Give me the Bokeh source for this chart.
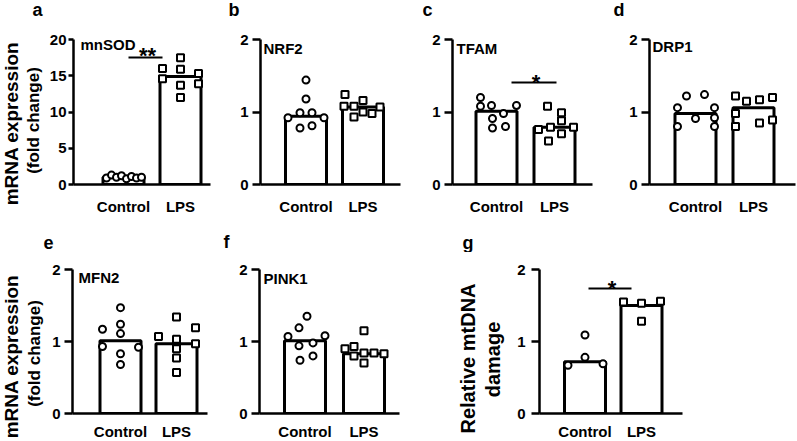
import numpy as np
from bokeh.plotting import figure
from bokeh.layouts import row, column
from bokeh.models import Label, FixedTicker
from bokeh.core.properties import value
from bokeh.embed import file_html
from bokeh.resources import INLINE

# ---------------- data ----------------
groups = ["Control", "LPS"]

sod_ctrl = [0.9, 1.3, 1.0, 1.2, 0.8, 1.1, 0.9, 1.0]
sod_lps = [16.0, 14.6, 17.5, 15.9, 13.7, 12.0, 15.3, 13.9]
sod_bars = [1.0, 14.9]

nrf2_ctrl = [1.44, 1.18, 0.99, 0.99, 0.92, 0.92, 0.78, 0.81]
nrf2_lps = [1.24, 1.08, 1.08, 1.16, 0.93, 1.00, 0.98, 1.07]
nrf2_bars = [0.94, 1.07]

tfam_ctrl = [1.20, 1.08, 1.09, 0.98, 0.91, 0.78, 0.80, 1.09]
tfam_lps = [1.08, 0.99, 0.88, 0.79, 0.76, 0.70, 0.60, 0.79]
tfam_bars = [1.01, 0.79]

drp1_ctrl = [1.06, 0.80, 1.22, 0.91, 1.24, 1.06, 0.92, 0.80]
drp1_lps = [1.22, 1.15, 1.17, 1.20, 0.98, 0.80, 0.85, 0.89]
drp1_bars = [0.98, 1.06]

mfn2_ctrl = [1.17, 0.93, 1.47, 1.24, 1.11, 0.83, 0.68, 0.92]
mfn2_lps = [1.07, 1.34, 1.03, 0.90, 0.77, 0.57, 1.19, 0.97]
mfn2_bars = [1.01, 0.97]

pink1_ctrl = [1.07, 1.35, 1.19, 0.94, 0.98, 0.74, 0.80, 1.08]
pink1_lps = [1.15, 0.93, 0.90, 0.84, 0.70, 0.84, 0.83, 0.80]
pink1_bars = [1.01, 0.83]

mtdna_ctrl = [1.09, 0.78, 0.67, 0.69]
mtdna_lps = [1.55, 1.53, 1.56, 1.28]
mtdna_bars = [0.72, 1.50]

# horizontal scatter offsets of the dots (pixels from bar centre) - layout only
sod_ctrl_dx = [-17, -12, -7, -2, 3, 8, 13, 18]
sod_lps_dx = [-18, -18, 0, 0, 0, 0, 18, 18]
nrf2_ctrl_dx = [0, 0, -6, 6, -18, 18, -6, 6]
nrf2_lps_dx = [-18, -19, -9, 0, -9, 0, 9, 17]
tfam_ctrl_dx = [-16, -16, -5, 7, -4, -4, 9, 20]
tfam_lps_dx = [-7, 7, 7, -4, -16, 7, -6, 19]
drp1_ctrl_dx = [-18, -18, -9, 0, 9, 19, 19, 19]
drp1_lps_dx = [-18, -7, 6, 19, -18, -18, 6, 19]
mfn2_ctrl_dx = [-18, -18, 0, 0, 0, 0, 0, 18]
mfn2_lps_dx = [-18, 0, 0, 0, 0, 0, 19, 19]
pink1_ctrl_dx = [-17, 2, -6, -6, 8, -5, 8, 20]
pink1_lps_dx = [0, -10, -19, 0, 0, 10, 20, -10]
mtdna_ctrl_dx = [0, 0, -17, 18]
mtdna_lps_dx = [-18, 0, 19, 0]

FONT = "Liberation Sans"
R = np.pi / 2


class Strip:
    """A text-only figure occupying a page rectangle (x0, y0, w, h)."""

    def __init__(self, x0, y0, w, h):
        self.x0, self.y0, self.h = x0, y0, h
        p = figure(frame_width=w, frame_height=h, x_range=(0, w), y_range=(0, h),
                   min_border_left=0, min_border_right=0, min_border_top=0,
                   min_border_bottom=0, x_axis_type=None, y_axis_type=None,
                   output_backend="svg", toolbar_location=None)
        p.outline_line_color = None
        p.grid.grid_line_color = None
        p.background_fill_color = "white"
        p.border_fill_color = "white"
        self.p = p

    def text(self, px, py, txt, size, align="center", baseline="middle", angle=0.0):
        self.p.text(x=[px - self.x0], y=[self.h - (py - self.y0)], text=[txt],
                    angle=angle, text_font=value(FONT), text_font_style="bold",
                    text_font_size=f"{size}px", text_align=align,
                    text_baseline=baseline, text_color="black")


class Panel:
    def __init__(self, L, W, c1, c2, ft, fh, ymax, bl, br, bt, bb, ticks, xstand,
                 tick_out=8, ystand=4):
        self.L, self.W, self.c1, self.c2 = L, W, c1, c2
        self.ft, self.fh, self.ymax = ft, fh, ymax
        self.u = c2 - c1
        x0 = 1 + (L - c1) / self.u
        x1 = 1 + (L + W - c1) / self.u
        p = figure(frame_width=W, frame_height=fh, x_range=(x0, x1), y_range=(0, ymax),
                   min_border_left=bl, min_border_right=br, min_border_top=bt,
                   min_border_bottom=bb, output_backend="svg", toolbar_location=None)
        p.outline_line_color = None
        p.grid.grid_line_color = None
        p.background_fill_color = "white"
        p.border_fill_color = "white"
        for ax in (p.xaxis[0], p.yaxis[0]):
            ax.axis_line_width = 2.5
            ax.axis_line_color = "black"
            ax.major_tick_line_width = 2.5
            ax.minor_tick_line_color = None
            ax.major_label_text_font = FONT
            ax.major_label_text_font_style = "bold"
            ax.major_label_text_font_size = "15px"
            ax.major_label_text_color = "black"
        p.xaxis.ticker = FixedTicker(ticks=[1, 2])
        p.xaxis.major_label_overrides = {1: groups[0], 2: groups[1]}
        p.xaxis.major_tick_out = 0
        p.xaxis.major_tick_in = 0
        p.xaxis.major_label_standoff = xstand
        p.yaxis.ticker = FixedTicker(ticks=ticks)
        p.yaxis.major_tick_out = tick_out
        p.yaxis.major_tick_in = 0
        p.yaxis.major_label_standoff = ystand
        self.p = p

    def X(self, px):
        return 1 + (px - self.c1) / self.u

    def Y(self, py):
        return self.ymax * (self.ft + self.fh - py) / self.fh

    def draw(self, bars, ctrl, ctrl_dx, lps, lps_dx):
        p = self.p
        p.vbar(x=[1, 2], top=bars, bottom=0, width=41 / self.u, fill_color="white",
               line_color="black", line_width=3)
        p.scatter(x=[1 + d / self.u for d in ctrl_dx], y=ctrl, marker="circle", size=7,
                  fill_color="white", line_color="black", line_width=2)
        p.scatter(x=[2 + d / self.u for d in lps_dx], y=lps, marker="square", size=7,
                  fill_color="white", line_color="black", line_width=2)

    def text(self, px, py, txt, size, align="center", baseline="middle"):
        self.p.add_layout(Label(x=self.X(px), y=self.Y(py), text=txt, text_font=FONT,
                                text_font_style="bold", text_font_size=f"{size}px",
                                text_align=align, text_baseline=baseline,
                                text_color="black"))

    def sig(self, xa, xb, py, stars, sy):
        self.p.segment(x0=[self.X(xa)], y0=[self.Y(py)], x1=[self.X(xb)], y1=[self.Y(py)],
                       line_color="black", line_width=2)
        self.text((xa + xb) / 2 + 2, sy, stars, 22)


TOP = dict(ft=39, fh=145, bt=15, bb=41, xstand=13)
BOT = dict(ft=269, fh=144, bt=17, bb=27, xstand=9)

# ---- panel letters (top strip, page y 0-24) ----
lt = Strip(0, 0, 796, 24)
for t, x in zip(["a", "b", "c", "d"], [32, 228, 422, 613]):
    lt.text(x, 9, t, 18, align="left", baseline="middle")

# ---- top row (page y 24-225) ----
yt1 = Strip(0, 24, 46, 201)
yt1.text(11, 108, "mRNA expression", 19, angle=R)
yt1.text(33, 105, "(fold change)", 17, angle=R)

pa = Panel(70, 137, 120, 177, ymax=20, bl=24, br=8, ticks=[0, 5, 10, 15, 20],
           tick_out=5, ystand=2, **TOP)
pa.draw(sod_bars, sod_ctrl, sod_ctrl_dx, sod_lps, sod_lps_dx)
pa.text(77, 44, "mnSOD", 15, align="left")
pa.sig(125, 159, 57, "**", 55)

pb = Panel(257, 140, 302.5, 359.5, ymax=2, bl=42, br=8, ticks=[0, 1, 2], **TOP)
pb.draw(nrf2_bars, nrf2_ctrl, nrf2_ctrl_dx, nrf2_lps, nrf2_lps_dx)
pb.text(260, 48, "NRF2", 15, align="left")

pc = Panel(449, 140, 493, 551, ymax=2, bl=44, br=8, ticks=[0, 1, 2], **TOP)
pc.draw(tfam_bars, tfam_ctrl, tfam_ctrl_dx, tfam_lps, tfam_lps_dx)
pc.text(453, 48, "TFAM", 15, align="left")
pc.sig(508, 553, 82, "*", 82)

pd = Panel(646, 146, 692, 750, ymax=2, bl=49, br=4, ticks=[0, 1, 2], **TOP)
pd.draw(drp1_bars, drp1_ctrl, drp1_ctrl_dx, drp1_lps, drp1_lps_dx)
pd.text(649, 46, "DRP1", 15, align="left")

# ---- panel letters (bottom strip, page y 225-252) ----
lb = Strip(0, 225, 796, 27)
for t, x, ym in zip(["e", "f", "g"], [43, 223, 462], [242, 241, 242]):
    lb.text(x, ym, t, 18, align="left", baseline="middle")

# ---- bottom row (page y 252-440) ----
yt2 = Strip(0, 252, 46, 188)
yt2.text(11, 339, "mRNA expression", 19, angle=R)
yt2.text(34, 336, "(fold change)", 17, angle=R)

pe = Panel(72, 135, 120, 176, ymax=2, bl=26, br=8, ticks=[0, 1, 2], **BOT)
pe.draw(mfn2_bars, mfn2_ctrl, mfn2_ctrl_dx, mfn2_lps, mfn2_lps_dx)
pe.text(78, 277, "MFN2", 15, align="left")

pf = Panel(259, 140, 304.5, 363.5, ymax=2, bl=44, br=6, ticks=[0, 1, 2], **BOT)
pf.draw(pink1_bars, pink1_ctrl, pink1_ctrl_dx, pink1_lps, pink1_lps_dx)
pf.text(263, 278, "PINK1", 15, align="left")

yt3 = Strip(405, 252, 109, 188)
yt3.text(467, 341, "Relative mtDNA", 20, angle=R)
yt3.text(492, 342, "damage", 20, angle=R)

pg = Panel(537, 143, 582.5, 639, ymax=2, bl=23, br=10, ticks=[0, 1, 2], ystand=6, **BOT)
pg.draw(mtdna_bars, mtdna_ctrl, mtdna_ctrl_dx, mtdna_lps, mtdna_lps_dx)
pg.sig(586, 629, 288, "*", 288)

layout = column(
    lt.p,
    row(yt1.p, pa.p, pb.p, pc.p, pd.p),
    lb.p,
    row(yt2.p, pe.p, pf.p, yt3.p, pg.p),
)
open("out.html", "w").write(file_html(layout, INLINE))
